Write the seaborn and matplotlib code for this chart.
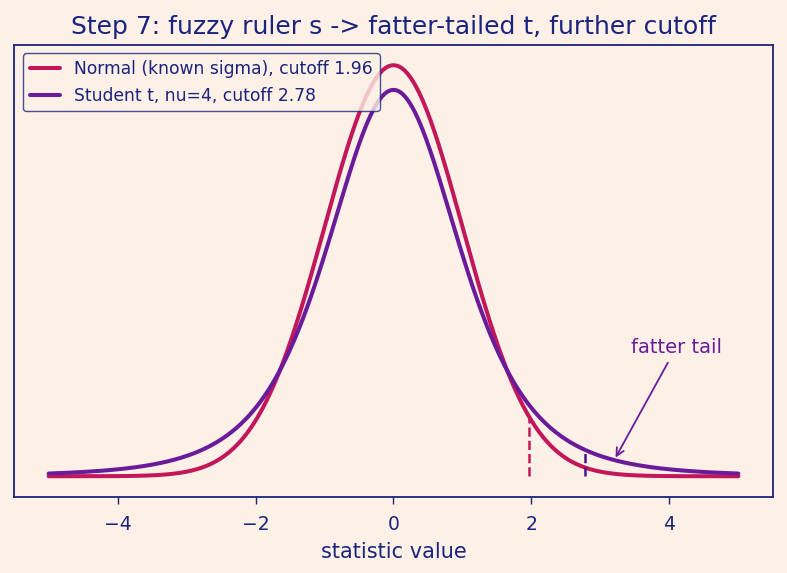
import math
import numpy as np
import pandas as pd
import seaborn as sns
import matplotlib.pyplot as plt

# chart values
x_range = (-5, 5)
normal_mu, normal_sigma = 0.0, 1.0
t_nu = 4
normal_cutoff = 1.96
t_cutoff = 2.78
labels = ["Normal (known sigma), cutoff 1.96", "Student t, nu=4, cutoff 2.78"]
note_text = "fatter tail"
note_x = 3.2

bg = "#fdf0e6"
navy = "#1a237e"
c_norm = "#c2185b"
c_t = "#6a1b9a"


def normal_pdf(x):
    z = (x - normal_mu) / normal_sigma
    return np.exp(-0.5 * z ** 2) / (normal_sigma * math.sqrt(2 * math.pi))


def t_pdf(x):
    c = math.gamma((t_nu + 1) / 2) / (math.sqrt(t_nu * math.pi) * math.gamma(t_nu / 2))
    return c * (1 + x ** 2 / t_nu) ** (-(t_nu + 1) / 2)


xs = np.linspace(x_range[0], x_range[1], 500)
df = pd.DataFrame({"x": xs, "normal": normal_pdf(xs), "t": t_pdf(xs)})

sns.set_theme(style="white", rc={
    "axes.facecolor": bg, "figure.facecolor": bg,
    "axes.edgecolor": navy, "axes.labelcolor": navy,
    "xtick.color": navy, "ytick.color": navy, "text.color": navy,
})
plt.rcParams["font.family"] = ["DejaVu Sans"]

fig, ax = plt.subplots(figsize=(7.87, 5.73), dpi=100)

sns.lineplot(data=df, x="x", y="normal", ax=ax, color=c_norm, lw=2.9, label=labels[0])
sns.lineplot(data=df, x="x", y="t", ax=ax, color=c_t, lw=2.9, label=labels[1])

ax.vlines(normal_cutoff, 0, normal_pdf(normal_cutoff), colors=c_norm, linestyles="--", lw=1.8)
ax.vlines(t_cutoff, 0, t_pdf(t_cutoff), colors="#4a148c", linestyles="--", lw=1.8)

ax.annotate(note_text, xy=(note_x, t_pdf(note_x)), xytext=(4.1, 0.125),
            ha="center", va="center", color=c_t, fontsize=14,
            arrowprops=dict(arrowstyle="->", color=c_t, lw=1.3))

ax.set_yticks([])
ax.set_ylabel("")
ax.set_xlabel("statistic value", fontsize=15, labelpad=6)
ax.tick_params(axis="x", labelsize=13.5, length=5, width=1, pad=8, bottom=True)
ax.set_title("Step 7: fuzzy ruler s -> fatter-tailed t, further cutoff", fontsize=18, color=navy, pad=8)
for s in ax.spines.values():
    s.set_color(navy)
    s.set_linewidth(1.3)

leg = ax.legend(loc="upper left", fontsize=12.3, frameon=True, facecolor=bg,
                edgecolor=navy, framealpha=0.8, fancybox=True,
                handlelength=1.8, borderaxespad=0.5)
for t in leg.get_texts():
    t.set_color(navy)

fig.subplots_adjust(left=0.018, right=0.982, top=0.922, bottom=0.133)
fig.savefig("out.png", dpi=100, facecolor=bg)
